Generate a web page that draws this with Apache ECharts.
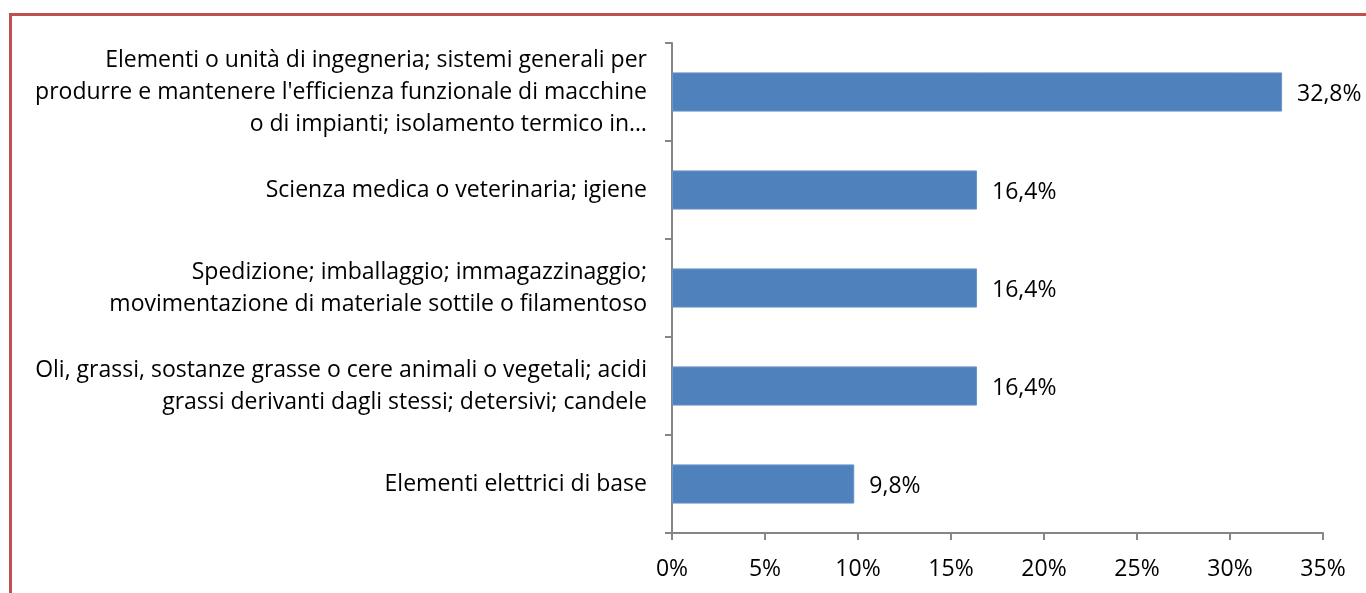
<!DOCTYPE html>
<html>
<head>
<meta charset="utf-8">
<script src="https://cdn.jsdelivr.net/npm/echarts@6/dist/echarts.min.js"></script>
<style>
    html, body { margin: 0; padding: 0; background: #fff; overflow: hidden; }
    #frame { position: absolute; left: 9px; top: 13px; width: 1400px; height: 700px;
             border-left: 3px solid #C0504D; border-top: 3px solid #C0504D; }
    #chart { position: absolute; left: 0; top: 0; width: 1366px; height: 593px; }
</style>
</head>
<body>
<div id="frame"></div>
<div id="chart"></div>
<script>
// categories top to bottom
var categories = [
    "Elementi o unità di ingegneria; sistemi generali per\nprodurre e mantenere l'efficienza funzionale di macchine\no di impianti; isolamento termico in…",
    "Scienza medica o veterinaria; igiene",
    "Spedizione; imballaggio; immagazzinaggio;\nmovimentazione di materiale sottile o filamentoso",
    "Oli, grassi, sostanze grasse o cere animali o vegetali; acidi\ngrassi derivanti dagli stessi; detersivi; candele",
    "Elementi elettrici di base"
];
var values = [32.8, 16.4, 16.4, 16.4, 9.8];
var xTicks = [0, 5, 10, 15, 20, 25, 30, 35];

var myChart = echarts.init(document.getElementById('chart'));
var axisGray = '#868686';
var font = '"Open Sans", "Noto Sans", sans-serif';

var option = {
    animation: false,
    grid: { left: 672, right: 43, top: 43, bottom: 60, containLabel: false },
    xAxis: {
        type: 'value',
        min: xTicks[0],
        max: xTicks[xTicks.length - 1],
        interval: 5,
        axisLine: { show: true, lineStyle: { color: axisGray, width: 2 } },
        axisTick: { show: true, length: 7, lineStyle: { color: axisGray, width: 2 } },
        splitLine: { show: false },
        axisLabel: {
            margin: 25,
            color: '#000',
            fontFamily: font,
            fontSize: 23,
            formatter: function (v) { return v + '%'; }
        }
    },
    yAxis: {
        type: 'category',
        inverse: true,
        data: categories,
        axisLine: { show: true, lineStyle: { color: axisGray, width: 2 } },
        axisTick: { show: true, length: 7, lineStyle: { color: axisGray, width: 2 } },
        axisLabel: {
            margin: 25,
            color: '#000',
            fontFamily: font,
            fontSize: 23,
            lineHeight: 32,
            align: 'right'
        }
    },
    series: [{
        type: 'bar',
        data: values,
        barWidth: '40%',
        itemStyle: { color: '#4F81BD', borderColor: '#6A95C9', borderWidth: 1 },
        label: {
            show: true,
            position: 'right',
            distance: 15,
            offset: [0, 2],
            color: '#000',
            fontFamily: font,
            fontSize: 23,
            formatter: function (p) { return p.value.toFixed(1).replace('.', ',') + '%'; }
        }
    }]
};

myChart.setOption(option);
</script>
</body>
</html>
